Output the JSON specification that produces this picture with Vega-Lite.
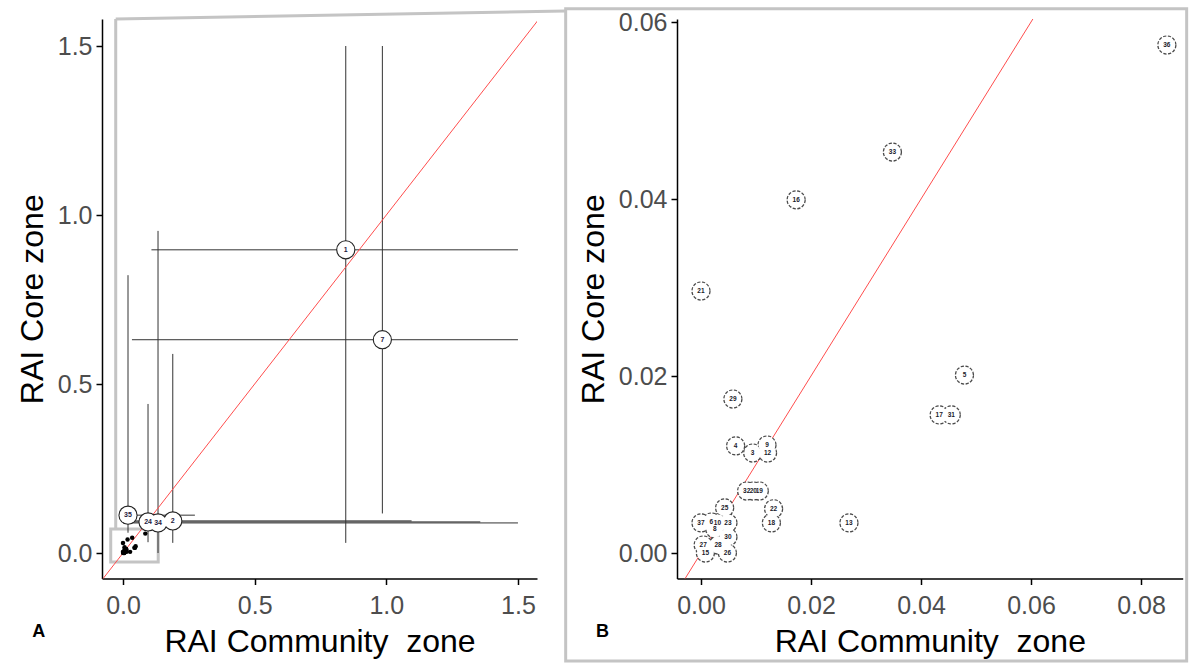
{
  "$schema": "https://vega.github.io/schema/vega-lite/v6.json",
  "background": "white",
  "padding": {"left": 16, "top": 7, "right": 0, "bottom": 0},
  "autosize": {"type": "pad"},
  "bounds": "flush",
  "spacing": 140,
  "config": {
    "view": {"stroke": null},
    "axis": {
      "grid": false,
      "domainColor": "black",
      "domainWidth": 1.5,
      "tickColor": "black",
      "tickWidth": 1.5,
      "tickSize": 6,
      "labelColor": "#4d4d4d",
      "labelFontSize": 25,
      "labelFont": "Liberation Sans",
      "titleFont": "Liberation Sans",
      "titleFontSize": 32,
      "titleFontWeight": "normal",
      "titleColor": "black",
      "labelFlush": false,
      "labelOverlap": false
    },
    "axisX": {"labelPadding": 9, "titlePadding": 8},
    "axisY": {"labelPadding": 4, "titlePadding": 8}
  },
  "datasets": {
    "small": [
      {"id": "36", "x": 0.0847, "y": 0.0574},
      {"id": "33", "x": 0.0348, "y": 0.0453},
      {"id": "16", "x": 0.0173, "y": 0.0399},
      {"id": "21", "x": 0.0, "y": 0.0296},
      {"id": "5", "x": 0.0479, "y": 0.0201},
      {"id": "17", "x": 0.0433, "y": 0.0156},
      {"id": "31", "x": 0.0455, "y": 0.0156},
      {"id": "13", "x": 0.0269, "y": 0.0034},
      {"id": "29", "x": 0.0058, "y": 0.0174},
      {"id": "4", "x": 0.0063, "y": 0.0121},
      {"id": "9", "x": 0.0120, "y": 0.0122},
      {"id": "3", "x": 0.0094, "y": 0.0113},
      {"id": "12", "x": 0.0121, "y": 0.0113},
      {"id": "32", "x": 0.0083, "y": 0.0070},
      {"id": "20", "x": 0.0095, "y": 0.0070},
      {"id": "19", "x": 0.0106, "y": 0.0070},
      {"id": "22", "x": 0.0132, "y": 0.0050},
      {"id": "18", "x": 0.0128, "y": 0.0034},
      {"id": "25", "x": 0.0043, "y": 0.0051},
      {"id": "37", "x": 0.0, "y": 0.0034},
      {"id": "6", "x": 0.0019, "y": 0.0035},
      {"id": "10", "x": 0.0030, "y": 0.0034},
      {"id": "23", "x": 0.0049, "y": 0.0034},
      {"id": "8", "x": 0.0025, "y": 0.0027},
      {"id": "30", "x": 0.0049, "y": 0.0018},
      {"id": "27", "x": 0.0004, "y": 0.0009},
      {"id": "28", "x": 0.0031, "y": 0.0009},
      {"id": "15", "x": 0.0008, "y": 0.0},
      {"id": "26", "x": 0.0048, "y": 0.0}
    ],
    "big": [
      {"id": "1", "x": 0.846, "y": 0.897, "xlo": 0.108, "xhi": 1.5, "ylo": 0.03, "yhi": 1.5},
      {"id": "7", "x": 0.985, "y": 0.631, "xlo": 0.034, "xhi": 1.5, "ylo": 0.117, "yhi": 1.5},
      {"id": "35", "x": 0.019, "y": 0.112, "xlo": 0.0, "xhi": 0.273, "ylo": 0.06, "yhi": 0.822},
      {"id": "24", "x": 0.095, "y": 0.092, "xlo": 0.0, "xhi": 1.357, "ylo": 0.032, "yhi": 0.441},
      {"id": "34", "x": 0.133, "y": 0.089, "xlo": 0.0, "xhi": 1.5, "ylo": 0.0, "yhi": 0.953},
      {"id": "2", "x": 0.189, "y": 0.095, "xlo": 0.0, "xhi": 1.096, "ylo": 0.03, "yhi": 0.589}
    ],
    "zoomLinesA": [
      {"x": -0.0277, "y": 0.071, "x2": -0.0277, "y2": 1.58},
      {"x": -0.0277, "y": 1.58, "x2": 1.681, "y2": 1.6036}
    ],
    "zoomBoxA": [{"x": -0.0467, "x2": 0.1337, "y": -0.0266, "y2": 0.071}],
    "frameB": [{"x": -0.0246, "x2": 0.0883, "y": -0.0122, "y2": 0.0615}],
    "diag": [{"x": -0.1, "y": -0.1, "x2": 2, "y2": 2}],
    "tagA": [{"tag": "A", "x": -0.32, "y": -0.234}],
    "tagB": [{"tag": "B", "x": -0.0179, "y": -0.0089}]
  },
  "hconcat": [
    {
      "width": 435,
      "height": 559.5,
      "encoding": {
        "x": {"type": "quantitative", "title": "RAI Community \u00a0zone",
              "scale": {"domain": [-0.0798, 1.5723], "nice": false, "zero": false},
              "axis": {"values": [0, 0.5, 1, 1.5], "format": ".1f"}},
        "y": {"type": "quantitative", "title": "RAI Core zone",
              "scale": {"domain": [-0.0754, 1.5799], "nice": false, "zero": false},
              "axis": {"values": [0, 0.5, 1, 1.5], "format": ".1f"}}
      },
      "layer": [
        {
          "data": {"name": "zoomBoxA"},
          "mark": {"type": "rect", "fill": null, "stroke": "#c4c4c4", "strokeWidth": 3},
          "encoding": {"x": {"field": "x"}, "x2": {"field": "x2"}, "y": {"field": "y"}, "y2": {"field": "y2"}}
        },
        {
          "data": {"name": "zoomLinesA"},
          "mark": {"type": "rule", "stroke": "#c4c4c4", "strokeWidth": 3},
          "encoding": {"x": {"field": "x"}, "x2": {"field": "x2"}, "y": {"field": "y"}, "y2": {"field": "y2"}}
        },
        {
          "data": {"name": "big"},
          "mark": {"type": "rule", "stroke": "#333333", "strokeWidth": 1},
          "encoding": {"x": {"field": "xlo"}, "x2": {"field": "xhi"}, "y": {"field": "y"}}
        },
        {
          "data": {"name": "big"},
          "mark": {"type": "rule", "stroke": "#333333", "strokeWidth": 1},
          "encoding": {"x": {"field": "x"}, "y": {"field": "ylo"}, "y2": {"field": "yhi"}}
        },
        {
          "data": {"name": "diag"},
          "mark": {"type": "rule", "stroke": "#ff4d4d", "strokeWidth": 1, "clip": true},
          "encoding": {"x": {"field": "x"}, "x2": {"field": "x2"}, "y": {"field": "y"}, "y2": {"field": "y2"}}
        },
        {
          "data": {"name": "small"},
          "mark": {"type": "point", "shape": "circle", "filled": true, "color": "black", "size": 20, "opacity": 1},
          "encoding": {"x": {"field": "x"}, "y": {"field": "y"}}
        },
        {
          "data": {"name": "big"},
          "mark": {"type": "point", "shape": "circle", "fill": "white", "fillOpacity": 1, "stroke": "#222222", "strokeWidth": 2.2, "size": 290, "opacity": 1},
          "encoding": {"x": {"field": "x"}, "y": {"field": "y"}}
        },
        {
          "data": {"name": "big"},
          "mark": {"type": "point", "shape": "circle", "fill": "white", "fillOpacity": 1, "strokeWidth": 0, "size": 290, "opacity": 1},
          "encoding": {"x": {"field": "x"}, "y": {"field": "y"}}
        },
        {
          "data": {"name": "big"},
          "mark": {"type": "text", "font": "Liberation Sans", "fontSize": 7, "fontWeight": "bold", "color": "#1f2040", "baseline": "middle", "align": "center"},
          "encoding": {"x": {"field": "x"}, "y": {"field": "y"}, "text": {"field": "id"}}
        },
        {
          "data": {"name": "tagA"},
          "mark": {"type": "text", "font": "Liberation Sans", "fontSize": 18, "fontWeight": "bold", "color": "black", "baseline": "middle", "align": "center"},
          "encoding": {"x": {"field": "x"}, "y": {"field": "y"}, "text": {"field": "tag"}}
        }
      ]
    },
    {
      "width": 505.7,
      "height": 559.5,
      "encoding": {
        "x": {"type": "quantitative", "title": "RAI Community \u00a0zone",
              "scale": {"domain": [-0.00436, 0.08758], "nice": false, "zero": false},
              "axis": {"values": [0, 0.02, 0.04, 0.06, 0.08], "format": ".2f"}},
        "y": {"type": "quantitative", "title": "RAI Core zone",
              "scale": {"domain": [-0.00288, 0.06034], "nice": false, "zero": false},
              "axis": {"values": [0, 0.02, 0.04, 0.06], "format": ".2f"}}
      },
      "layer": [
        {
          "data": {"name": "frameB"},
          "mark": {"type": "rect", "fill": null, "stroke": "#c4c4c4", "strokeWidth": 3},
          "encoding": {"x": {"field": "x"}, "x2": {"field": "x2"}, "y": {"field": "y"}, "y2": {"field": "y2"}}
        },
        {
          "data": {"name": "diag"},
          "mark": {"type": "rule", "stroke": "#ff4d4d", "strokeWidth": 1, "clip": true},
          "encoding": {"x": {"field": "x"}, "x2": {"field": "x2"}, "y": {"field": "y"}, "y2": {"field": "y2"}}
        },
        {
          "data": {"name": "small"},
          "mark": {"type": "point", "shape": "circle", "fill": "white", "fillOpacity": 1, "stroke": "#4a4a4a", "strokeWidth": 2.4, "strokeDash": [3, 1.5], "size": 285, "opacity": 1},
          "encoding": {"x": {"field": "x"}, "y": {"field": "y"}}
        },
        {
          "data": {"name": "small"},
          "mark": {"type": "point", "shape": "circle", "fill": "white", "fillOpacity": 1, "strokeWidth": 0, "size": 285, "opacity": 1},
          "encoding": {"x": {"field": "x"}, "y": {"field": "y"}}
        },
        {
          "data": {"name": "small"},
          "mark": {"type": "text", "font": "Liberation Sans", "fontSize": 6.5, "fontWeight": "bold", "color": "#1a1a2a", "baseline": "middle", "align": "center"},
          "encoding": {"x": {"field": "x"}, "y": {"field": "y"}, "text": {"field": "id"}}
        },
        {
          "data": {"name": "tagB"},
          "mark": {"type": "text", "font": "Liberation Sans", "fontSize": 18, "fontWeight": "bold", "color": "black", "baseline": "middle", "align": "center"},
          "encoding": {"x": {"field": "x"}, "y": {"field": "y"}, "text": {"field": "tag"}}
        }
      ]
    }
  ]
}
